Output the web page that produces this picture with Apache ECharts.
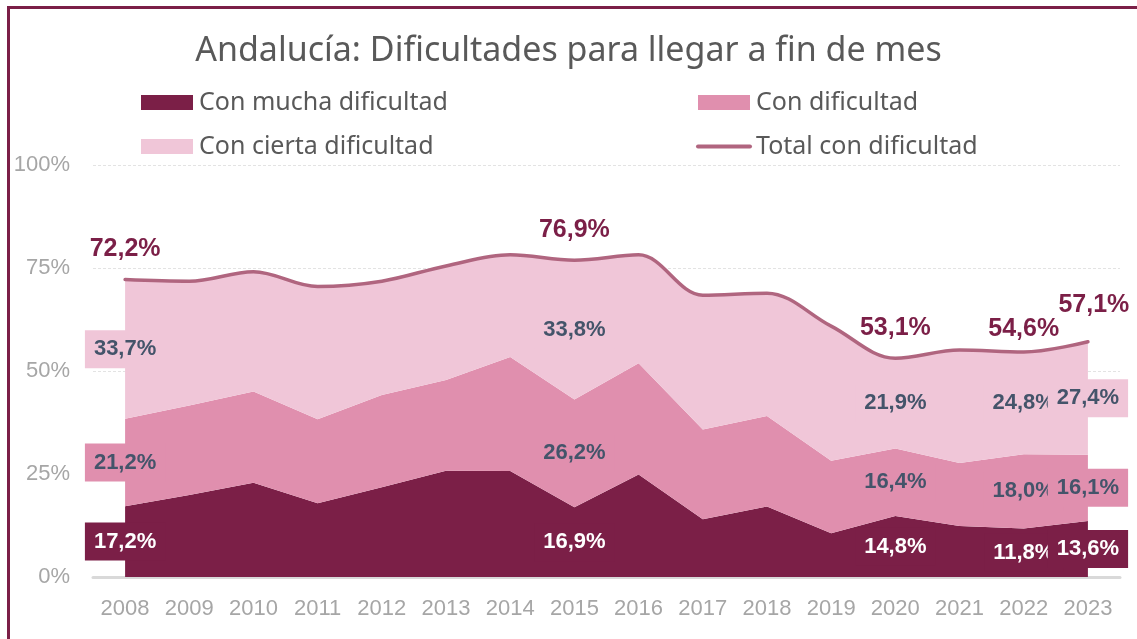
<!DOCTYPE html>
<html>
<head>
<meta charset="utf-8">
<script src="https://cdn.jsdelivr.net/npm/echarts@6/dist/echarts.min.js"></script>
<style>
  html, body { margin: 0; padding: 0; background: #fff; }
  #chart { width: 1137px; height: 639px; }
</style>
</head>
<body>
<div id="chart"></div>
<script>
let years = ['2008','2009','2010','2011','2012','2013','2014','2015','2016','2017','2018','2019','2020','2021','2022','2023'];
let mucha = [17.2,19.9,22.9,17.9,21.8,25.8,25.7,16.9,24.9,14.0,17.1,10.6,14.8,12.4,11.8,13.6];
let dificultad = [21.2,21.7,22.1,20.4,22.4,22.0,27.7,26.2,27.0,21.8,22.0,17.6,16.4,15.3,18.0,16.1];
let cierta = [33.7,30.2,29.1,32.2,27.6,27.7,24.8,33.8,26.3,32.6,29.8,32.7,21.9,27.4,24.8,27.4];
let total = [72.2,71.8,74.1,70.5,71.8,75.5,78.2,76.9,78.2,68.4,68.9,60.9,53.1,55.1,54.6,57.1];
let labelYears = ['2008','2015','2020','2022','2023'];

let chart = echarts.init(document.getElementById('chart'));
let dark = '#7b1f47', mid = '#e08fae', light = '#f0c6d8', lineColor = '#b0657f';
let textBlue = '#44546a', grey = '#595959';

function fmt(p){ return p.value.toFixed(1).replace('.', ',') + '%' }

function areaSeries(name, values, color, textColor, smooth){
  return {
    name: name,
    type: 'line',
    stack: 'total',
    color: color,
    smooth: smooth,
    symbol: 'circle',
    symbolSize: 0,
    lineStyle: { width: 0 },
    areaStyle: { color: color, opacity: 1 },
    label: {
      show: false,
      formatter: fmt,
      color: textColor,
      fontFamily: 'Liberation Sans',
      fontWeight: 'bold',
      fontSize: 22,
      backgroundColor: color,
      padding: [8, 9]
    },
    data: values
  }
}

chart.setOption({
  animation: false,
  backgroundColor: '#fff',
  graphic: [{
    type: 'rect',
    shape: { x: 8.5, y: 7.5, width: 1300, height: 800 },
    style: { fill: null, stroke: dark, lineWidth: 3 }
  }],
  title: {
    text: 'Andalucía: Dificultades para llegar a fin de mes',
    left: 'center',
    top: 29,
    textStyle: { fontFamily: 'Noto Sans', fontSize: 34, fontWeight: 'normal', color: grey }
  },
  legend: [{
    orient: 'vertical',
    left: 136,
    top: 85,
    itemWidth: 52,
    itemHeight: 15,
    itemGap: 19,
    textStyle: { fontFamily: 'Noto Sans', fontSize: 25, color: grey, padding: [0, 0, 0, 1] },
    data: [{ name: 'Con mucha dificultad', icon: 'rect' }, { name: 'Con cierta dificultad', icon: 'rect' }]
  }, {
    orient: 'vertical',
    left: 691,
    top: 85,
    itemWidth: 52,
    itemHeight: 15,
    itemGap: 19,
    textStyle: { fontFamily: 'Noto Sans', fontSize: 25, color: grey, padding: [0, 0, 0, 1] },
    data: [
      { name: 'Con dificultad', icon: 'rect' },
      { name: 'Total con dificultad', itemStyle: { opacity: 0 }, lineStyle: { width: 4 } }
    ]
  }],
  grid: { left: 93, right: 17, top: 165, bottom: 62 },
  xAxis: {
    type: 'category',
    data: years,
    boundaryGap: true,
    axisLine: { lineStyle: { color: '#d9d9d9', width: 3 } },
    axisTick: { show: false },
    axisLabel: { color: '#a6a6a6', fontFamily: 'Liberation Sans', fontSize: 22, margin: 21 }
  },
  yAxis: {
    type: 'value',
    min: 0,
    max: 100,
    interval: 25,
    axisLine: { show: false },
    axisTick: { show: false },
    axisLabel: { formatter: '{value}%', color: '#a6a6a6', fontFamily: 'Liberation Sans', fontSize: 22, margin: 23 },
    splitLine: { lineStyle: { color: '#e3e3e3', type: [3, 2], width: 1 } }
  },
  series: [
    areaSeries('Con mucha dificultad', mucha, dark, '#fff', false),
    areaSeries('Con dificultad', dificultad, mid, textBlue, false),
    areaSeries('Con cierta dificultad', cierta, light, textBlue, 0.35),
    {
      name: 'Total con dificultad',
      type: 'line',
      color: lineColor,
      smooth: 0.35,
      symbol: 'circle',
      symbolSize: 0,
      lineStyle: { width: 3.5, color: lineColor, cap: 'round' },
      label: {
        show: false,
        position: 'top',
        distance: 18,
        formatter: fmt,
        color: dark,
        fontFamily: 'Liberation Sans',
        fontWeight: 'bold',
        fontSize: 25
      },
      data: total
    }
  ]
});

// pixels per percentage point, taken from the y axis scale
let ppu = (chart.convertToPixel({ yAxisIndex: 0 }, 0) - chart.convertToPixel({ yAxisIndex: 0 }, 100)) / 100;

function withLabels(values, centered){
  return values.map((v, i) => {
    if (labelYears.indexOf(years[i]) < 0) return v
    let lbl = { show: true }
    if (centered) { lbl.position = 'inside'; lbl.offset = [0, v * ppu / 2] }
    return { value: v, label: lbl }
  })
}

let totalData = withLabels(total, false);
// Excel nudged the last two total labels apart
totalData[14].label.offset = [0, 8];
totalData[15].label.offset = [6, -6];

chart.setOption({
  series: [
    { data: withLabels(mucha, true) },
    { data: withLabels(dificultad, true) },
    { data: withLabels(cierta, true) },
    { data: totalData }
  ]
});
</script>
</body>
</html>
